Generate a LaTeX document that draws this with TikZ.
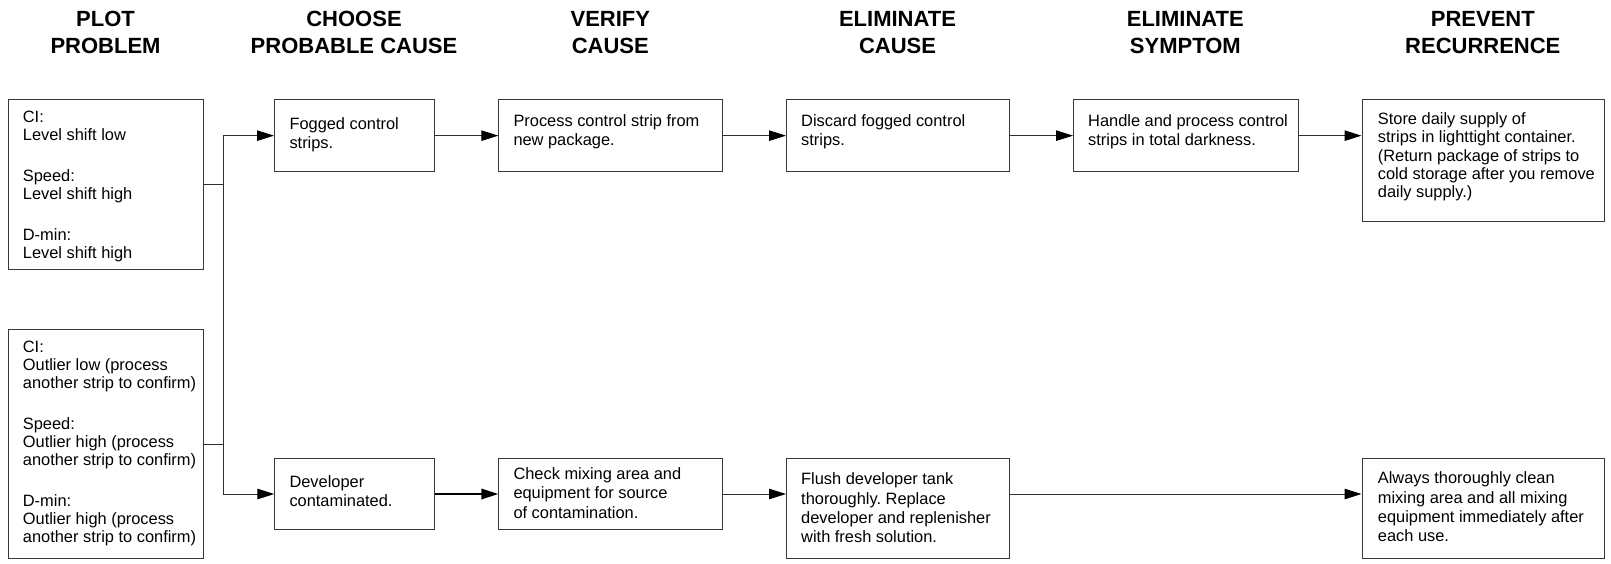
\documentclass[tikz,border=0pt]{standalone}
\usepackage{fontspec}
\setmainfont{Liberation Sans}
\frenchspacing
\usetikzlibrary{arrows.meta}
\newcommand{\mystrut}{\rule{0pt}{12pt}}
\tikzset{
  box/.style={draw=black!78, line width=1pt, rectangle, inner sep=0pt, anchor=north west},
  txt/.style={inner sep=0pt, align=left, anchor=north west, font=\fontsize{16.4}{19.3}\selectfont},
  ptxt/.style={txt, font=\fontsize{16.4}{17.9}\selectfont},
  stxt/.style={txt, font=\fontsize{16.4}{18.3}\selectfont},
  head/.style={inner sep=0pt, align=center, anchor=base, font=\bfseries\fontsize{22}{26.6}\selectfont},
  conn/.style={draw=black!82, line width=1pt},
  arr/.style={conn, -{Triangle[length=17pt,width=10.5pt,color=black,fill=black]}},
  thickarr/.style={arr, draw=black, line width=1.8pt}
}
\begin{document}
\begin{tikzpicture}[x=1pt,y=-1pt]
\useasboundingbox (0,0) rectangle (1611,564);
% headers (anchor at baseline of the last line)
\node[head] (h1) at (105.5,53.3) {PLOT\\PROBLEM};
\node[head] (h2) at (354,53.3) {CHOOSE\\PROBABLE CAUSE};
\node[head] (h3) at (610.3,53.3) {VERIFY\\CAUSE};
\node[head] (h4) at (897.5,53.3) {ELIMINATE\\CAUSE};
\node[head] (h5) at (1185.3,53.3) {ELIMINATE\\SYMPTOM};
\node[head] (h6) at (1482.8,53.3) {PREVENT\\RECURRENCE};
% boxes
\node[box, minimum width=195pt, minimum height=169.7pt] (p1) at (8,99.3) {};
\node[box, minimum width=195pt, minimum height=229pt] (p2) at (8,329.3) {};
\node[box, minimum width=160.3pt, minimum height=71.7pt] (fog) at (274,99.3) {};
\node[box, minimum width=224pt, minimum height=71.7pt] (proc) at (498.3,99.3) {};
\node[box, minimum width=223pt, minimum height=71.7pt] (disc) at (786,99.3) {};
\node[box, minimum width=224.5pt, minimum height=71.7pt] (hand) at (1073,99.3) {};
\node[box, minimum width=242.5pt, minimum height=121.4pt] (store) at (1361.5,99.3) {};
\node[box, minimum width=160pt, minimum height=71.6pt] (dev) at (274.3,457.7) {};
\node[box, minimum width=224pt, minimum height=71.6pt] (check) at (498.3,457.7) {};
\node[box, minimum width=223pt, minimum height=100.3pt] (flush) at (786,457.7) {};
\node[box, minimum width=242.5pt, minimum height=100.3pt] (always) at (1361.5,457.7) {};
% texts (node top = first baseline - 12)
\node[ptxt] (p1t) at (22.7,110.3) {\mystrut CI:\\Level shift low\\[23pt]Speed:\\Level shift high\\[23pt]D-min:\\Level shift high};
\node[ptxt] (p2t) at (22.7,340.3) {\mystrut CI:\\Outlier low (process\\another strip to confirm)\\[23.4pt]Speed:\\Outlier high (process\\another strip to confirm)\\[23pt]D-min:\\Outlier high (process\\another strip to confirm)};
\node[txt] (fogt) at (289.3,117) {\mystrut Fogged control\\strips.};
\node[txt] (proct) at (513.3,114) {\mystrut Process control strip from\\new package.};
\node[txt] (disct) at (801,114) {\mystrut Discard fogged control\\strips.};
\node[txt] (handt) at (1088,114) {\mystrut Handle and process control\\strips in total darkness.};
\node[stxt] (storet) at (1377.7,112.3) {\mystrut Store daily supply of\\strips in lighttight container.\\(Return package of strips to\\cold storage after you remove\\daily supply.)};
\node[txt] (devt) at (289.3,475.3) {\mystrut Developer\\contaminated.};
\node[txt] (checkt) at (513.3,467.3) {\mystrut Check mixing area and\\equipment for source\\of contamination.};
\node[txt] (flusht) at (801,472.5) {\mystrut Flush developer tank\\thoroughly. Replace\\developer and replenisher\\with fresh solution.};
\node[txt] (alwayst) at (1377.7,471.7) {\mystrut Always thoroughly clean\\mixing area and all mixing\\equipment immediately after\\each use.};
% connectors
\coordinate (jx) at (223,0);
\draw[conn] (p1.east) -- (p1.east -| jx);
\draw[conn] (p2.east) -- (p2.east -| jx);
\draw[conn] (jx |- fog.west) -- (jx |- dev.west);
\draw[arr] (jx |- fog.west) -- (fog.west);
\draw[arr] (jx |- dev.west) -- (dev.west);
\draw[arr] (fog.east) -- (proc.west);
\draw[arr] (proc.east) -- (disc.west);
\draw[arr] (disc.east) -- (hand.west);
\draw[arr] (hand.east) -- (hand.east -| store.west);
\draw[thickarr] (dev.east) -- (check.west);
\draw[arr] (check.east) -- (check.east -| flush.west);
\draw[arr] (flush.east |- check.east) -- (always.west |- check.east);
\end{tikzpicture}
\end{document}
